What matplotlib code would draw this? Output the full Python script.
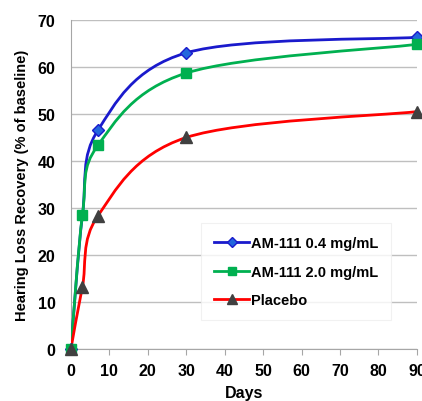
import matplotlib
matplotlib.use("Agg")
import matplotlib.pyplot as plt
import numpy as np
from matplotlib.path import Path
from matplotlib.patches import PathPatch
from matplotlib.lines import Line2D

plt.rcParams['font.family'] = ['Liberation Sans', 'DejaVu Sans']
plt.rcParams['font.weight'] = 'bold'

days_blue = [0, 3, 7, 30, 90]
blue = [0, 28.5, 46.5, 63, 66.3]
days_green = [0, 3, 7, 30, 90]
green = [0, 28.5, 43.3, 58.7, 64.8]
days_placebo = [0, 3, 7, 30, 90]
placebo = [0, 13.3, 28.3, 45, 50.5]

labels = ['AM-111 0.4 mg/mL', 'AM-111 2.0 mg/mL', 'Placebo']


def smooth_path(xs, ys):
    # Excel style smoothed line: cubic bezier, catmull-rom control points
    pts = np.column_stack([xs, ys]).astype(float)
    n = len(pts)
    verts = [pts[0]]
    codes = [Path.MOVETO]
    for i in range(n - 1):
        p_prev = pts[i - 1] if i > 0 else pts[i]
        p0 = pts[i]
        p1 = pts[i + 1]
        p_next = pts[i + 2] if i + 2 < n else pts[i + 1]
        c1 = p0 + (p1 - p_prev) / 6.0
        c2 = p1 - (p_next - p0) / 6.0
        verts += [c1, c2, p1]
        codes += [Path.CURVE4] * 3
    return Path(verts, codes)


fig = plt.figure(figsize=(4.22, 4.02), dpi=100)
ax = fig.add_axes([0.168, 0.129, 0.82, 0.819])

# blue first, placebo last so it sits on top
# (blue diamond at day 3 is hidden under the green square in the original)
series = [
    (days_blue, blue, '#1A1ACC', 'D', '#2266DD', '#1A1ACC', 6, [0, 2, 3, 4]),
    (days_green, green, '#00B050', 's', '#00B050', '#00B050', 7.5, None),
    (days_placebo, placebo, '#FF0000', '^', '#404040', '#404040', 9, None),
]
for k, (xs, ys, lc, mk, mfc, mec, ms, every) in enumerate(series):
    ax.add_patch(PathPatch(smooth_path(xs, ys), facecolor='none', edgecolor=lc, lw=2, zorder=3 + k))
    ax.plot(xs, ys, linestyle='none', marker=mk, ms=ms, mfc=mfc, mec=mec, mew=1,
            markevery=every, zorder=6 + k, clip_on=False)

ax.set_xlim(0, 90)
ax.set_ylim(0, 70)
ax.set_xticks(np.arange(0, 91, 10))
ax.set_yticks(np.arange(0, 71, 10))
ax.yaxis.grid(True, color='#BFBFBF', lw=1)
ax.set_axisbelow(True)
for s in ['top', 'right']:
    ax.spines[s].set_visible(False)
for s in ['left', 'bottom']:
    ax.spines[s].set_color('#A6A6A6')
ax.tick_params(axis='x', colors='#A6A6A6', length=4, labelcolor='black', labelsize=11.5, pad=6)
ax.tick_params(axis='y', length=0, labelcolor='black', labelsize=11.5, pad=11)
ax.set_xlabel('Days', fontsize=11.5, fontweight='bold', labelpad=5)
ax.set_ylabel('Hearing Loss Recovery (% of baseline)', fontsize=10.5, fontweight='bold', labelpad=6)

handles = [
    Line2D([], [], color='#1A1ACC', lw=2, marker='D', ms=5, mfc='#2266DD', mec='#1A1ACC'),
    Line2D([], [], color='#00B050', lw=2, marker='s', ms=6, mfc='#00B050', mec='#00B050'),
    Line2D([], [], color='#FF0000', lw=2, marker='^', ms=7, mfc='#404040', mec='#404040'),
]
leg = ax.legend(handles, labels, loc='lower left', bbox_to_anchor=(0.355, 0.065),
                frameon=True, fancybox=False, fontsize=10.5, handlelength=2.4,
                handletextpad=0.1, labelspacing=1.0, borderpad=0.9)
leg.get_frame().set_edgecolor('#EEEEEE')
leg.get_frame().set_linewidth(0.8)

fig.savefig('out.png', dpi=100)
